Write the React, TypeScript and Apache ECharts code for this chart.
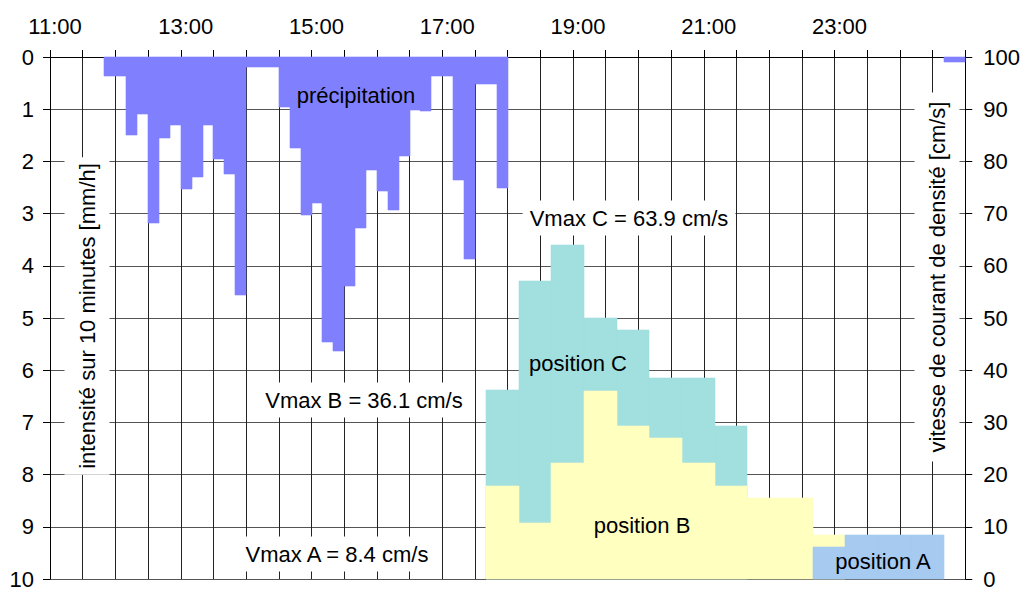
import React, { useEffect, useRef } from "react";
import * as echarts from "echarts";

// ---- data ----
// x axis: time of day (11:00 -> 01:00 next day), tick labels every 2 h
const timeLabels = ["11:00", "13:00", "15:00", "17:00", "19:00", "21:00", "23:00"];
const axisStart = "11:00";
const axisEnd = "01:00"; // next day

// precipitation intensity over 10 minutes [mm/h], 10-minute slots
const rainStep = 10;
const rainStart1 = "11:00";
const rain1 = [
  0, 0, 0, 0, 0, 0.37, 0.37, 1.5, 1.09, 3.18,
  1.55, 1.31, 2.53, 2.3, 1.31, 1.96, 2.24, 4.56, 0.19, 0.19,
  0.19, 0.95, 1.74, 3.03, 2.8, 5.46, 5.63, 4.38, 3.28, 2.17,
  2.57, 2.94, 1.9, 1.02, 1.04, 0.37, 0.37, 2.36, 3.87, 0.52,
  0.52, 2.51,
];
const rainStart2 = "00:40"; // next day
const rain2 = [0.1, 0.1];

// density current velocity [cm/s], 30-minute slots
const velStep = 30;
const posCStart = "17:40";
const posC = [36.2, 57.1, 63.9, 50.0, 47.7, 38.5, 38.5, 29.3];
const posBStart = "17:40";
const posB = [17.8, 10.7, 22.2, 36.1, 29.3, 27.0, 22.2, 17.8, 15.5, 15.5, 8.4];
const posAStart = "22:40";
const posA = [6.1, 8.4, 8.4, 8.4];

const FONT = "Liberation Sans, Arial, sans-serif";

function toMin(t: string): number {
  const [h, m] = t.split(":").map(Number);
  let v = h * 60 + m;
  if (v < 11 * 60) v += 24 * 60; // after midnight
  return v;
}

function slots(start: string, step: number, values: number[]) {
  const s0 = toMin(start);
  return values
    .map((v, i) => [s0 + i * step, s0 + (i + 1) * step, v])
    .filter((d) => d[2] > 0);
}

function rectSeries(name: string, data: number[][], color: string, yAxisIndex: number, z: number) {
  return {
    type: "custom",
    name,
    yAxisIndex,
    z,
    encode: { x: [0, 1], y: 2 },
    data,
    renderItem: (params: any, api: any) => {
      const s = api.value(0);
      const e = api.value(1);
      const v = api.value(2);
      const p0 = api.coord([s, 0]);
      const p1 = api.coord([e, v]);
      const x0 = Math.round(p0[0]);
      const x1 = Math.round(p1[0]);
      const y0 = Math.round(Math.min(p0[1], p1[1]));
      const y1 = Math.round(Math.max(p0[1], p1[1]));
      return {
        type: "rect",
        shape: { x: x0, y: y0, width: x1 - x0, height: y1 - y0 },
        style: { fill: color, stroke: color, lineWidth: 0.6 },
      };
    },
  };
}

export default function App() {
  const ref = useRef<HTMLDivElement>(null);
  useEffect(() => {
    document.body.style.margin = "0";
    const chart = echarts.init(ref.current!, null, { renderer: "svg" });
    const xMin = toMin(axisStart);
    const xMax = toMin(axisEnd);
    const labelMap: Record<number, string> = {};
    timeLabels.forEach((l) => (labelMap[toMin(l)] = l));

    const boxText = (text: string, x: number, y: number, pad: number[], rot = 0, bg = true) => ({
      type: "text",
      x,
      y,
      rotation: rot,
      z: 100,
      style: {
        text,
        x: 0,
        y: 0,
        align: "center",
        verticalAlign: "middle",
        font: `22px ${FONT}`,
        fill: "#000",
        backgroundColor: bg ? "#fff" : undefined,
        padding: pad,
        lineHeight: 25,
      },
    });

    chart.setOption({
      animation: false,
      textStyle: { fontFamily: FONT },
      grid: { left: 50, right: 54, top: 57, bottom: 11, containLabel: false },
      xAxis: {
        type: "value",
        position: "top",
        min: xMin,
        max: xMax,
        interval: 30,
        axisLine: { show: true, lineStyle: { color: "#000", width: 1 } },
        axisTick: { show: true, inside: false, length: 7, lineStyle: { color: "#000" } },
        axisLabel: {
          fontSize: 22,
          color: "#000",
          margin: 20,
          padding: [0, 0, 0, 10],
          formatter: (v: number) => labelMap[v] ?? "",
        },
        splitLine: { show: true, lineStyle: { color: "#222", width: 1 } },
      },
      yAxis: [
        {
          type: "value",
          inverse: true,
          min: 0,
          max: 10,
          interval: 1,
          position: "left",
          axisLine: { show: true, lineStyle: { color: "#000" } },
          axisTick: { show: true, inside: false, length: 7, lineStyle: { color: "#000" } },
          axisLabel: { fontSize: 22, color: "#000", margin: 16 },
          splitLine: { show: true, lineStyle: { color: "#555", width: 1 } },
        },
        {
          type: "value",
          min: 0,
          max: 100,
          interval: 10,
          position: "right",
          axisLine: { show: true, lineStyle: { color: "#000" } },
          axisTick: { show: true, inside: false, length: 7, lineStyle: { color: "#000" } },
          axisLabel: { fontSize: 22, color: "#000", margin: 18 },
          splitLine: { show: false },
        },
      ],
      series: [
        rectSeries("précipitation", [...slots(rainStart1, rainStep, rain1), ...slots(rainStart2, rainStep, rain2)], "#8080ff", 0, 2),
        rectSeries("position C", slots(posCStart, velStep, posC), "#a2dfdf", 1, 3),
        rectSeries("position B", slots(posBStart, velStep, posB), "#ffffc0", 1, 4),
        rectSeries("position A", slots(posAStart, velStep, posA), "#a6caf0", 1, 5),
      ],
      graphic: [
        boxText("intensité sur 10 minutes [mm/h]", 87, 316, [10, 6, 10, 6], Math.PI / 2),
        boxText("vitesse de courant de densité [cm/s]", 937, 277, [10, 9, 10, 9], Math.PI / 2),
        boxText("précipitation", 356, 95, [0, 0, 0, 0], 0, false),
        boxText("Vmax C = 63.9 cm/s", 629, 218, [5, 7, 5, 7]),
        boxText("Vmax B = 36.1 cm/s", 364, 400, [5, 8, 5, 8]),
        boxText("Vmax A = 8.4 cm/s", 337, 554, [5, 6, 5, 6]),
        boxText("position C", 578, 363, [0, 0, 0, 0], 0, false),
        boxText("position B", 642, 525, [0, 0, 0, 0], 0, false),
        boxText("position A", 883, 561, [0, 0, 0, 0], 0, false),
      ],
    });
    return () => chart.dispose();
  }, []);
  return (
    <div
      ref={ref}
      style={{ position: "absolute", left: 0, top: 0, width: 1023, height: 590, background: "#fff" }}
    />
  );
}
